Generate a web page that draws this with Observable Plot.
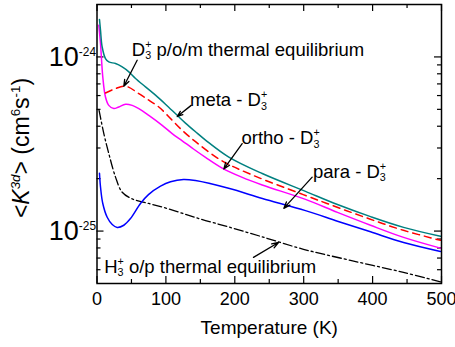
<!DOCTYPE html>
<html><head><meta charset="utf-8">
<script src="https://cdn.jsdelivr.net/npm/d3@7"></script>
<script src="https://cdn.jsdelivr.net/npm/@observablehq/plot@0.6"></script>
<style>html,body{margin:0;padding:0;background:#fff}svg{display:block}</style>
</head><body><div id="chart"></div>
<script>
// ---- data: [temperature (K), <K3d> (cm^6 s^-1)] ----
const meta = [[3.6,1.64e-24],[5.1,1.42e-24],[7.5,1.14e-24],[12.3,9.79e-25],[17.1,9.36e-25],[26.9,9.16e-25],[36.6,8.76e-25],[46.2,8.21e-25],[55.9,7.52e-25],[70.4,6.73e-25],[84.9,6.03e-25],[99.4,5.35e-25],[116.4,4.62e-25],[128.4,4.17e-25],[142.9,3.72e-25],[157.5,3.33e-25],[191.3,2.66e-25],[239.8,2.14e-25],[302.6,1.69e-25],[349,1.42e-25],[397,1.21e-25],[445,1.05e-25],[498.5,9.33e-26]];
const thermalD3 = [[12.3,6.21e-25],[26.9,6.58e-25],[41.4,6.79e-25],[60.7,6.16e-25],[75.2,5.64e-25],[89.7,5.16e-25],[109.1,4.33e-25],[123.7,3.79e-25],[143,3.26e-25],[180,2.55e-25],[222.8,2.12e-25],[299.3,1.62e-25],[348.6,1.37e-25],[396.7,1.17e-25],[444.6,1.01e-25],[498.5,8.85e-26]];
const ortho = [[2.6,1.52e-24],[5.1,1.19e-24],[8.4,7.67e-25],[12.3,5.89e-25],[17.1,5.27e-25],[24.4,5.05e-25],[31.6,5.16e-25],[41.4,5.35e-25],[51.1,5.27e-25],[60.7,5.05e-25],[75.2,4.62e-25],[94.6,4.05e-25],[109.1,3.63e-25],[123.7,3.30e-25],[140,2.96e-25],[157.5,2.65e-25],[181.7,2.30e-25],[210,2.04e-25],[239.8,1.84e-25],[302.6,1.52e-25],[349,1.28e-25],[397,1.08e-25],[445,9.2e-26],[498.5,7.98e-26]];
const para = [[3.6,2.15e-25],[5.1,1.79e-25],[8.4,1.44e-25],[14.8,1.20e-25],[22.1,1.09e-25],[29.3,1.05e-25],[38.9,1.08e-25],[48.6,1.18e-25],[63.1,1.44e-25],[74.7,1.62e-25],[92.2,1.81e-25],[106.7,1.92e-25],[125.5,1.98e-25],[143,1.95e-25],[191,1.76e-25],[240,1.54e-25],[302.6,1.31e-25],[349,1.14e-25],[397,9.9e-26],[445,8.6e-26],[498.5,7.64e-26]];
const thermalH3 = [[3,4.93e-25],[9.9,3.63e-25],[17.1,2.79e-25],[26.9,2.04e-25],[36.6,1.67e-25],[51.1,1.53e-25],[75.2,1.44e-25],[104.2,1.34e-25],[133.2,1.23e-25],[157.5,1.15e-25],[189.5,1.06e-25],[237.3,9.33e-26],[299.7,7.86e-26],[367.9,6.79e-26],[444.8,5.79e-26],[498.5,5.11e-26]];

const xTicks = [0,100,200,300,400,500];
const xMinor = [50,150,250,350,450];
const yTicks = [1e-25,1e-24];
const yMinor = [6e-26,7e-26,8e-26,9e-26,2e-25,3e-25,4e-25,5e-25,6e-25,7e-25,8e-25,9e-25];

const annText = ["D_3^+ p/o/m thermal equilibrium","meta - D_3^+","ortho - D_3^+","para - D_3^+","H_3^+ o/p thermal equilibrium"];
const annAt = [[50.5,1.099e-24],[135,5.66e-25],[209.7,3.41e-25],[313.5,2.19e-25],[10.4,6.24e-26]];
const arrowFrom = [[58.3,9.57e-25],[136.7,5.27e-25],[210.7,3.18e-25],[312.3,2.04e-25],[227.1,7.06e-26]];
const arrowTo = [[38.9,6.79e-25],[116.4,4.55e-25],[184,2.27e-25],[271.1,1.35e-25],[263.4,8.6e-26]];

const yLabel = "<*K*^{*3d*}> (cm^{6}s^{-1})";
const xLabel = "Temperature (K)";

// ---- layout ----
const W = 455, H = 347, mL = 96.5, mR = 14, mT = 4, mB = 64;
const plotW = W - mL - mR, plotH = H - mT - mB;
const anns = annText.map((t, i) => ({t, x: annAt[i][0], y: annAt[i][1],
  x1: arrowFrom[i][0], y1: arrowFrom[i][1], x2: arrowTo[i][0], y2: arrowTo[i][1]}));
const X = d => d[0], Y = d => d[1];
const lineOpts = {x: X, y: Y, curve: "catmull-rom", strokeWidth: 1.5};

const chart = Plot.plot({
  width: W, height: H, marginLeft: mL, marginRight: mR, marginTop: mT, marginBottom: mB,
  style: {fontFamily: "'Liberation Sans', Arial, sans-serif", fontSize: "18px", color: "black", background: "white", overflow: "visible"},
  x: {domain: [0, 500], label: null},
  y: {type: "log", domain: [5e-26, 2e-24], label: null},
  marks: [
    // inward ticks on all four sides
    Plot.ruleX(xTicks, {x: d => d, insetTop: plotH - 7, strokeWidth: 1.2}),
    Plot.ruleX(xMinor, {x: d => d, insetTop: plotH - 4, strokeWidth: 1.2}),
    Plot.ruleX(xTicks, {x: d => d, insetBottom: plotH - 7, strokeWidth: 1.2}),
    Plot.ruleX(xMinor, {x: d => d, insetBottom: plotH - 4, strokeWidth: 1.2}),
    Plot.ruleY(yTicks, {y: d => d, insetRight: plotW - 7, strokeWidth: 1.2}),
    Plot.ruleY(yMinor, {y: d => d, insetRight: plotW - 4, strokeWidth: 1.2}),
    Plot.ruleY(yTicks, {y: d => d, insetLeft: plotW - 7, strokeWidth: 1.2}),
    Plot.ruleY(yMinor, {y: d => d, insetLeft: plotW - 4, strokeWidth: 1.2}),
    Plot.axisX(xTicks, {tickSize: 0, tickPadding: 8.5, fontSize: 18, label: null}),
    Plot.axisY(yTicks, {tickSize: 0, tickPadding: 1, fontSize: 27, label: null,
      tickFormat: d => "10^{" + Math.round(Math.log10(d)) + "}"}),
    Plot.line(thermalH3, {...lineOpts, stroke: "black", strokeWidth: 1.3, strokeDasharray: "9,3,2,3"}),
    Plot.line(para, {...lineOpts, stroke: "#0000ff"}),
    Plot.line(ortho, {...lineOpts, stroke: "#ff00ff"}),
    Plot.line(thermalD3, {...lineOpts, stroke: "#ff0000", strokeDasharray: "7,5"}),
    Plot.line(meta, {...lineOpts, stroke: "#008080"}),
    Plot.arrow(anns, {x1: "x1", y1: "y1", x2: "x2", y2: "y2", headLength: 8, headAngle: 40, strokeWidth: 1.3}),
    Plot.text(anns, {x: "x", y: "y", text: "t", textAnchor: "start", lineAnchor: "middle", fontSize: 18.5}),
    Plot.text([yLabel], {frameAnchor: "left", dx: -75, dy: 4, rotate: -90, textAnchor: "middle", lineAnchor: "middle", fontSize: 23}),
    Plot.text([xLabel], {frameAnchor: "bottom", dy: 44, textAnchor: "middle", lineAnchor: "middle", fontSize: 19}),
    Plot.frame({stroke: "black", strokeWidth: 1.5})
  ]
});
document.getElementById("chart").append(chart);

// ---- rich text (sub/superscripts, italics) ----
const NS = "http://www.w3.org/2000/svg";
function grp(g) { return /^\*.*\*$/.test(g) ? {text: g.slice(1, -1), italic: true} : {text: g, italic: false}; }
function parseRich(s) {
  const segs = []; let i = 0, italic = false, buf = "";
  const flush = () => { if (buf) { segs.push({type: "n", text: buf, italic}); buf = ""; } };
  const read = () => { if (s[i] === "{") { const j = s.indexOf("}", i); const g = s.slice(i + 1, j); i = j + 1; return grp(g); } return grp(s[i++]); };
  while (i < s.length) {
    const c = s[i];
    if (c === "*") { flush(); italic = !italic; i++; continue; }
    if (c === "^" || c === "_") {
      flush(); i++;
      const seg = {type: "s"}; seg[c === "^" ? "sup" : "sub"] = read();
      if ((s[i] === "^" || s[i] === "_") && s[i] !== c) { const c2 = s[i]; i++; seg[c2 === "^" ? "sup" : "sub"] = read(); }
      segs.push(seg); continue;
    }
    buf += c; i++;
  }
  flush(); return segs;
}
function richify(el, scale, rise, drop) {
  const s = el.textContent;
  if (!/[\^_*]/.test(s)) return;
  const fs = parseFloat(getComputedStyle(el).fontSize);
  const segs = parseRich(s);
  while (el.firstChild) el.removeChild(el.firstChild);
  let off = 0, pend = 0;
  const add = (txt, italic, size, target, dx) => {
    const t = document.createElementNS(NS, "tspan");
    t.textContent = txt;
    t.setAttribute("font-style", italic ? "italic" : "normal");
    if (size) t.setAttribute("font-size", size);
    const dy = target - off; if (dy) t.setAttribute("dy", dy);
    off = target;
    if (dx) t.setAttribute("dx", dx);
    el.appendChild(t); return t;
  };
  for (const g of segs) {
    if (g.type === "n") { add(g.text, g.italic, null, 0, pend); pend = 0; continue; }
    const small = fs * scale; let sup = null;
    if (g.sup) { sup = add(g.sup.text, g.sup.italic, small, -fs * rise, pend); pend = 0; }
    if (g.sub) {
      const w = sup ? sup.getComputedTextLength() : 0;
      const sub = add(g.sub.text, g.sub.italic, small, fs * drop, pend - w);
      pend = sup ? Math.max(0, w - sub.getComputedTextLength()) : 0;
    }
  }
}
chart.querySelectorAll('[aria-label="y-axis tick label"] text').forEach(t => richify(t, 0.44, 0.36, 0.2));
chart.querySelectorAll('[aria-label="text"] text').forEach(t => richify(t, 0.58, 0.42, 0.2));
</script></body></html>
